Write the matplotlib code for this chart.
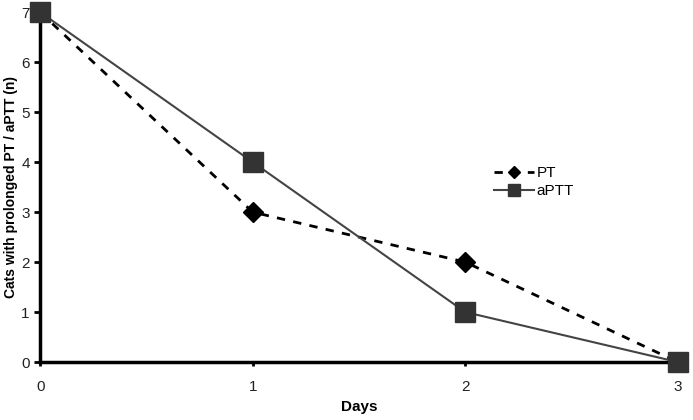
import matplotlib
matplotlib.use("Agg")
import matplotlib.pyplot as plt

days = [0, 1, 2, 3]
pt = [7, 3, 2, 0]
aptt = [7, 4, 1, 0]

plt.rcParams['font.family'] = ['Liberation Sans', 'DejaVu Sans']

fig = plt.figure(figsize=(6.93, 4.2), dpi=100)
ax = fig.add_axes([0.058, 0.138, 0.92, 0.833])

ax.plot(days, pt, color='black', linestyle=(0, (3, 3)), linewidth=2,
        marker='D', markersize=10, markerfacecolor='black', label='PT', zorder=3)
ax.plot(days, aptt, color='#444444', linestyle='-', linewidth=1.5,
        marker='s', markersize=15, markerfacecolor='#333333',
        markeredgecolor='#333333', label='aPTT', zorder=4)

ax.set_xlim(0, 3)
ax.set_ylim(0, 7)
ax.set_xticks(days)
ax.set_yticks(range(8))
for s in ['top', 'right']:
    ax.spines[s].set_visible(False)
ax.spines['left'].set_linewidth(2.5)
ax.spines['bottom'].set_linewidth(2.5)
ax.tick_params(axis='y', direction='out', length=4, width=2, labelsize=11)
ax.tick_params(axis='x', direction='out', length=3, width=2, labelsize=11, pad=10)
for t in ax.get_xticklabels() + ax.get_yticklabels():
    t.set_color('#222222')

ax.set_xlabel('Days', fontsize=11, fontweight='bold', labelpad=4)
ax.set_ylabel('Cats with prolonged PT / aPTT (n)', fontsize=10, fontweight='bold', labelpad=2)

leg = ax.legend(loc='upper left', bbox_to_anchor=(0.69, 0.6), frameon=False,
                fontsize=11, handlelength=2.6, markerscale=0.6,
                handletextpad=0.2, labelspacing=0.3)

for line in ax.get_lines():
    line.set_clip_on(False)

plt.savefig("out.png", dpi=100)
